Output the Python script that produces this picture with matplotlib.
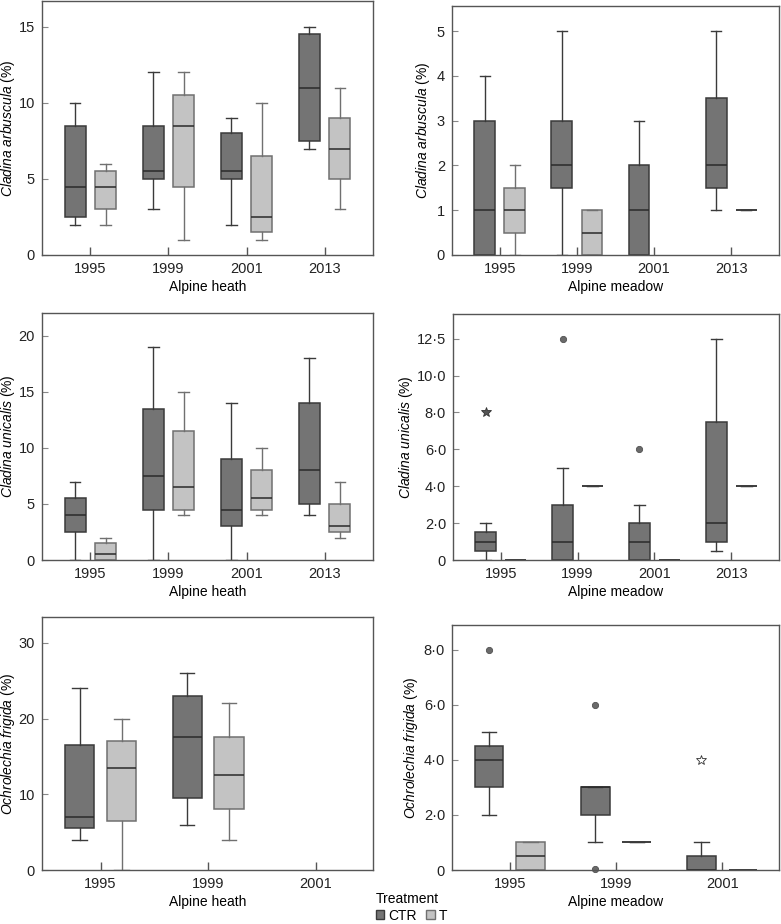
import matplotlib
matplotlib.use("Agg")
import matplotlib.pyplot as plt
from matplotlib.patches import Patch

plt.rcParams['font.family'] = 'Liberation Sans'
plt.rcParams['font.size'] = 10
plt.rcParams['mathtext.fontset'] = 'custom'
plt.rcParams['mathtext.it'] = 'Liberation Sans:italic'
plt.rcParams['mathtext.rm'] = 'Liberation Sans'

years4 = ['1995', '1999', '2001', '2013']
years3 = ['1995', '1999', '2001']

# box stats per year: (whislo, q1, med, q3, whishi), None = no data
arb_heath_ctr = [(2, 2.5, 4.5, 8.5, 10), (3, 5, 5.5, 8.5, 12), (2, 5, 5.5, 8, 9), (7, 7.5, 11, 14.5, 15)]
arb_heath_t = [(2, 3, 4.5, 5.5, 6), (1, 4.5, 8.5, 10.5, 12), (1, 1.5, 2.5, 6.5, 10), (3, 5, 7, 9, 11)]
arb_meadow_ctr = [(0, 0, 1, 3, 4), (0, 1.5, 2, 3, 5), (0, 0, 1, 2, 3), (1, 1.5, 2, 3.5, 5)]
arb_meadow_t = [(0, 0.5, 1, 1.5, 2), (0, 0, 0.5, 1, 1), None, (1, 1, 1, 1, 1)]

uni_heath_ctr = [(0, 2.5, 4, 5.5, 7), (0, 4.5, 7.5, 13.5, 19), (0, 3, 4.5, 9, 14), (4, 5, 8, 14, 18)]
uni_heath_t = [(0, 0, 0.5, 1.5, 2), (4, 4.5, 6.5, 11.5, 15), (4, 4.5, 5.5, 8, 10), (2, 2.5, 3, 5, 7)]
uni_meadow_ctr = [(0, 0.5, 1, 1.5, 2), (0, 0, 1, 3, 5), (0, 0, 1, 2, 3), (0.5, 1, 2, 7.5, 12)]
uni_meadow_t = [(0, 0, 0, 0, 0), (4, 4, 4, 4, 4), (0, 0, 0, 0, 0), (4, 4, 4, 4, 4)]
uni_meadow_outliers = [(1, 12), (2, 6)]   # (year index, value)
uni_meadow_extremes = [(0, 8)]

fri_heath_ctr = [(4, 5.5, 7, 16.5, 24), (6, 9.5, 17.5, 23, 26), None]
fri_heath_t = [(0, 6.5, 13.5, 17, 20), (4, 8, 12.5, 17.5, 22), None]
fri_meadow_ctr = [(2, 3, 4, 4.5, 5), (1, 2, 3, 3, 3), (0, 0, 0, 0.5, 1)]
fri_meadow_t = [(0, 0, 0.5, 1, 1), (1, 1, 1, 1, 1), (0, 0, 0, 0, 0)]
fri_meadow_outliers = [(0, 8), (1, 6), (1, 0.05)]
fri_meadow_extremes = [(2, 4)]

ticks_arb_heath = [0, 5, 10, 15]
ticks_arb_meadow = [0, 1, 2, 3, 4, 5]
ticks_uni_heath = [0, 5, 10, 15, 20]
ticks_uni_meadow = [0, 2, 4, 6, 8, 10, 12]
labels_uni_meadow = ['0', '2·0', '4·0', '6·0', '8·0', '10·0', '12·5']
ticks_fri_heath = [0, 10, 20, 30]
ticks_fri_meadow = [0, 2, 4, 6, 8]
labels_fri_meadow = ['0', '2·0', '4·0', '6·0', '8·0']

CTR_FILL = '#747474'
CTR_EDGE = '#3a3a3a'
T_FILL = '#c3c3c3'
T_EDGE = '#707070'
OFF = 0.195
BW = 0.27


def stats(rows):
    out = []
    for r in rows:
        if r is None:
            out.append(None)
        else:
            out.append(dict(whislo=r[0], q1=r[1], med=r[2], q3=r[3], whishi=r[4], fliers=[]))
    return out


def draw_group(ax, rows, sign, fill, edge):
    st = stats(rows)
    pos = [i + sign * OFF for i, s in enumerate(st) if s is not None]
    st = [s for s in st if s is not None]
    ax.bxp(st, positions=pos, widths=BW, patch_artist=True, showfliers=False,
           capwidths=BW * 0.5,
           boxprops=dict(facecolor=fill, edgecolor=edge, linewidth=1.1),
           medianprops=dict(color='#2a2a2a', linewidth=1.1),
           whiskerprops=dict(color=edge, linewidth=1.0),
           capprops=dict(color=edge, linewidth=1.0))


def panel(box, ctr, t, years, ticks, ylim, ylabel, xlabel, ylab_x, ticklabels=None,
          outliers=(), extremes=(), star_fill='#555555'):
    x0, y0, x1, y1 = box
    ax = fig.add_axes([x0 / W, 1 - y1 / H, (x1 - x0) / W, (y1 - y0) / H])
    draw_group(ax, ctr, -1, CTR_FILL, CTR_EDGE)
    draw_group(ax, t, 1, T_FILL, T_EDGE)
    for i, v in outliers:
        ax.plot(i - OFF, v, 'o', ms=4.5, mfc='#6a6a6a', mec='#505050', mew=0.6, clip_on=False)
    for i, v in extremes:
        ax.plot(i - OFF, v, '*', ms=7, mfc=star_fill, mec='#333333', mew=0.6, clip_on=False)
    n = len(years)
    ax.set_xticks(range(n))
    ax.set_xticklabels(years)
    if n == 4:
        ax.set_xlim(-0.62, 3.62)
    else:
        ax.set_xlim(-0.545, 2.535)
    ax.set_yticks(ticks)
    if ticklabels is not None:
        ax.set_yticklabels(ticklabels)
    ax.set_ylim(0, ylim)
    ax.set_ylabel(ylabel)
    # label right edge (in pixels) -> axes fraction
    ax.yaxis.set_label_coords((ylab_x - x0) / (x1 - x0), 0.5)
    ax.set_xlabel(xlabel, labelpad=3)
    for sp in ax.spines.values():
        sp.set_color('#555555')
        sp.set_linewidth(1.0)
    ax.tick_params(axis='x', direction='in', length=6, width=1.0, color='#555555', pad=5,
                   labelcolor='#222222', labelsize=10.5)
    ax.tick_params(axis='y', direction='in', length=4, width=0.8, color='#888888', pad=5,
                   labelcolor='#222222', labelsize=10.5)
    return ax


fig = plt.figure(figsize=(7.81, 9.24), dpi=100)
W, H = 781.0, 924.0

lab_arb = r'$\it{Cladina\ arbuscula}$ (%)'
lab_uni = r'$\it{Cladina\ unicalis}$ (%)'
lab_fri = r'$\it{Ochrolechia\ frigida}$ (%)'

panel((42, 1, 373, 255), arb_heath_ctr, arb_heath_t, years4, ticks_arb_heath, 16.7,
      lab_arb, 'Alpine heath', 17)
panel((452, 6, 779, 255), arb_meadow_ctr, arb_meadow_t, years4, ticks_arb_meadow, 5.56,
      lab_arb, 'Alpine meadow', 432)
panel((42, 313, 373, 560), uni_heath_ctr, uni_heath_t, years4, ticks_uni_heath, 22.05,
      lab_uni, 'Alpine heath', 17)
panel((453, 314, 779, 560), uni_meadow_ctr, uni_meadow_t, years4, ticks_uni_meadow, 13.34,
      lab_uni, 'Alpine meadow', 415, ticklabels=labels_uni_meadow,
      outliers=uni_meadow_outliers, extremes=uni_meadow_extremes, star_fill='#555555')
panel((42, 617, 373, 870), fri_heath_ctr, fri_heath_t, years3, ticks_fri_heath, 33.4,
      lab_fri, 'Alpine heath', 17)
panel((452, 625, 779, 870), fri_meadow_ctr, fri_meadow_t, years3, ticks_fri_meadow, 8.89,
      lab_fri, 'Alpine meadow', 420, ticklabels=labels_fri_meadow,
      outliers=fri_meadow_outliers, extremes=fri_meadow_extremes, star_fill='white')

handles = [Patch(facecolor=CTR_FILL, edgecolor=CTR_EDGE), Patch(facecolor=T_FILL, edgecolor=T_EDGE)]
fig.legend(handles, ['CTR', 'T'], title='Treatment', ncol=2, frameon=False,
           loc='upper left', bbox_to_anchor=(366 / W, 1 - 882 / H),
           handlelength=0.6, handleheight=0.6, handletextpad=0.3, columnspacing=0.7,
           borderpad=0.2, labelspacing=0.2, fontsize=10, title_fontsize=10,
           alignment='left')

fig.savefig('out.png', dpi=100)
